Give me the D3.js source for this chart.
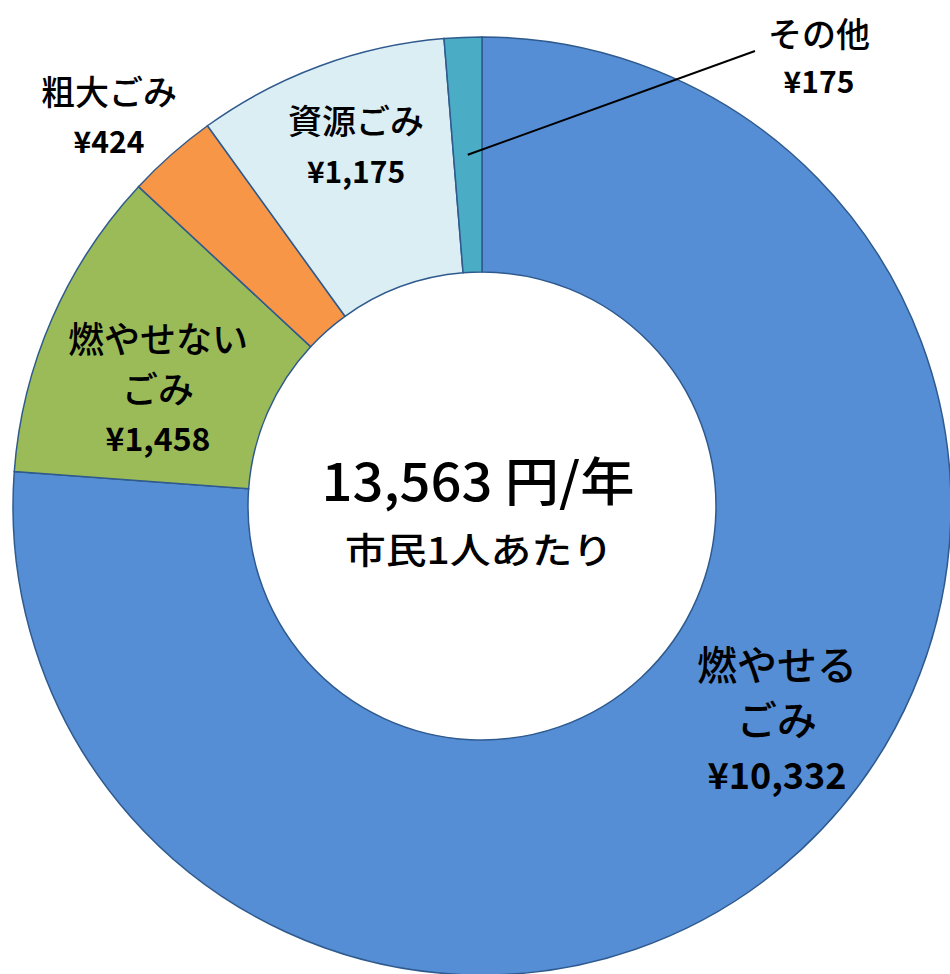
<!DOCTYPE html>
<html>
<head>
<meta charset="utf-8">
<script src="https://cdn.jsdelivr.net/npm/d3@7"></script>
<style>
  body { margin: 0; background: #fff; }
  svg text { font-family: "Noto Sans CJK JP", sans-serif; fill: #000; }
</style>
</head>
<body>
<svg id="chart" width="950" height="974"></svg>
<script>
// data, clockwise from 12 o'clock
const categories = ["燃やせるごみ", "燃やせないごみ", "粗大ごみ", "資源ごみ", "その他"];
const values = [10332, 1458, 424, 1175, 175];
const valueLabels = ["¥10,332", "¥1,458", "¥424", "¥1,175", "¥175"];
const nameLines = [["燃やせる", "ごみ"], ["燃やせない", "ごみ"], ["粗大ごみ"], ["資源ごみ"], ["その他"]];
const colors = ["#558ED5", "#9BBB59", "#F79646", "#DBEEF4", "#4BACC6"];
const totalLabel = "13,563 円/年";
const subLabel = "市民1人あたり";

// layout
const cx = 482, cy = 506;
const outerR = 469, innerR = 234;

// label anchors (x center, y of first line), font sizes
const labelLayout = [
  { x: 777, y: 663, size: 40, vsize: 36, gap: 55 },
  { x: 158, y: 337, size: 36, vsize: 32, gap: 50 },
  { x: 109, y: 90,  size: 34, vsize: 30, gap: 50 },
  { x: 356, y: 119, size: 34, vsize: 30, gap: 51 },
  { x: 819, y: 32,  size: 34, vsize: 30, gap: 48 }
];

let svg = d3.select("#chart");
let g = svg.append("g").attr("transform", `translate(${cx},${cy})`);

let pie = d3.pie().sort(null).value(d => d);
let arcs = pie(values);
let arc = d3.arc().innerRadius(innerR).outerRadius(outerR);

g.selectAll("path")
  .data(arcs)
  .join("path")
  .attr("d", arc)
  .attr("fill", (d, i) => colors[i])
  .attr("stroke", "#2F5A8E")
  .attr("stroke-width", 1.5);

// leader line for その他 (from middle of its slice to near the label)
let other = arcs[4];
let midA = (other.startAngle + other.endAngle) / 2;
let lr = (innerR + outerR) / 2;
let p0 = [cx + lr * Math.sin(midA), cy - lr * Math.cos(midA)];
svg.append("line")
  .attr("x1", p0[0]).attr("y1", p0[1])
  .attr("x2", 755).attr("y2", 51)
  .attr("stroke", "#000")
  .attr("stroke-width", 2);

// slice labels
categories.forEach((c, i) => {
  let L = labelLayout[i];
  let lines = nameLines[i];
  lines.forEach((t, k) => {
    svg.append("text")
      .attr("x", L.x)
      .attr("y", L.y + k * L.gap)
      .attr("text-anchor", "middle")
      .attr("dominant-baseline", "central")
      .attr("font-size", L.size)
      .attr("font-weight", 500)
      .text(t);
  });
  svg.append("text")
    .attr("x", L.x)
    .attr("y", L.y + lines.length * L.gap)
    .attr("text-anchor", "middle")
    .attr("dominant-baseline", "central")
    .attr("font-size", L.vsize)
    .attr("font-weight", "bold")
    .text(valueLabels[i]);
});

// center text
svg.append("text")
  .attr("x", cx - 4)
  .attr("y", 478)
  .attr("text-anchor", "middle")
  .attr("dominant-baseline", "central")
  .attr("font-size", 52)
  .attr("font-weight", 500)
  .attr("textLength", 313)
  .attr("lengthAdjust", "spacingAndGlyphs")
  .text(totalLabel);

svg.append("text")
  .attr("x", cx - 3)
  .attr("y", 548)
  .attr("text-anchor", "middle")
  .attr("dominant-baseline", "central")
  .attr("font-size", 36)
  .attr("font-weight", 500)
  .attr("textLength", 268)
  .attr("lengthAdjust", "spacingAndGlyphs")
  .text(subLabel);
</script>
</body>
</html>
